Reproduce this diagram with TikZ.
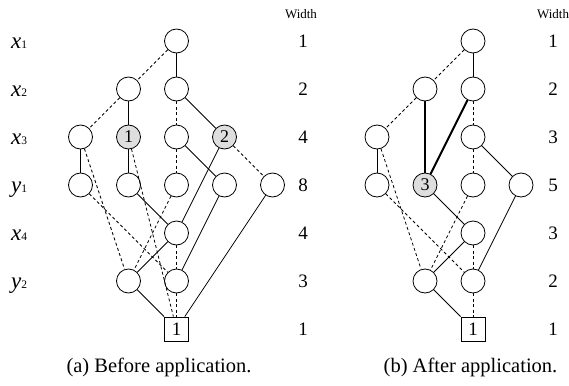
\documentclass[tikz,border=0pt]{standalone}
\usepackage{fontspec}
\setmainfont{Liberation Serif}
\begin{document}
\begin{tikzpicture}[x=1pt,y=-1pt,
  vnode/.style={circle,draw,line width=0.8pt,minimum size=24pt,inner sep=0pt,font=\fontsize{18}{18}\selectfont},
  gnode/.style={vnode,fill=black!13},
  term/.style={rectangle,draw,line width=0.8pt,minimum size=24pt,inner sep=0pt,font=\fontsize{19}{19}\selectfont},
  hi/.style={line width=0.8pt},
  lo/.style={line width=0.8pt,dash pattern=on 3pt off 2.5pt},
  thk/.style={line width=2pt},
  varlab/.style={anchor=base west,inner sep=0pt},
  wnum/.style={inner sep=0pt,font=\fontsize{19}{19}\selectfont},
  whead/.style={inner sep=0pt,font=\fontsize{13}{13}\selectfont},
  capt/.style={inner sep=0pt,anchor=base,font=\fontsize{20.5}{20.5}\selectfont}
]
\useasboundingbox (0,0) rectangle (569,385);
\newcommand{\vl}[2]{{\fontsize{23}{23}\selectfont\itshape #1}{\fontsize{11.5}{11.5}\selectfont #2}}
% variable labels
\node[varlab] (v1) at (11,48.3) {\vl{x}{1}};
\node[varlab] (v2) at (11,96.3) {\vl{x}{2}};
\node[varlab] (v3) at (11,144.3) {\vl{x}{3}};
\node[varlab] (v4) at (11,192.3) {\vl{y}{1}};
\node[varlab] (v5) at (11,240.3) {\vl{x}{4}};
\node[varlab] (v6) at (11,288.3) {\vl{y}{2}};
% width columns
\node[whead] (wh1) at (301,14) {Width};
\node[whead] (wh2) at (553,14) {Width};
\foreach \n/\y/\a/\b in {1/41/1/1,2/89/2/2,3/137/4/3,4/185/8/5,5/233/4/3,6/281/3/2,7/329/1/1}{
  \node[wnum] (wl\n) at (303,\y) {\a};
  \node[wnum] (wr\n) at (553,\y) {\b};
}
% ---------- left panel ----------
\node[vnode] (L03) at (176.5,41) {};
\node[vnode] (L12) at (128.5,89) {};
\node[vnode] (L13) at (176.5,89) {};
\node[vnode] (L21) at (80.5,137) {};
\node[gnode] (L22) at (128.5,137) {1};
\node[vnode] (L23) at (176.5,137) {};
\node[gnode] (L24) at (224.5,137) {2};
\node[vnode] (L31) at (80.5,185) {};
\node[vnode] (L32) at (128.5,185) {};
\node[vnode] (L33) at (176.5,185) {};
\node[vnode] (L34) at (224.5,185) {};
\node[vnode] (L35) at (272.5,185) {};
\node[vnode] (L43) at (176.5,233) {};
\node[vnode] (L52) at (128.5,281) {};
\node[vnode] (L53) at (176.5,281) {};
\node[term] (LT) at (176.5,329) {1};
\draw[lo] (L03) -- (L12);
\draw[hi] (L03) -- (L13);
\draw[lo] (L12) -- (L21);
\draw[hi] (L12) -- (L22);
\draw[lo] (L13) -- (L23);
\draw[hi] (L13) -- (L24);
\draw[hi] (L21) -- (L31);
\draw[lo] (L21) -- (L52);
\draw[hi] (L22) -- (L32);
\draw[lo] (L22) -- (LT);
\draw[lo] (L23) -- (L33);
\draw[hi] (L23) -- (L34);
\draw[lo] (L24) -- (L35);
\draw[hi] (L24) -- (L43);
\draw[lo] (L31) -- (L53);
\draw[hi] (L32) -- (L43);
\draw[lo] (L33) -- (L52);
\draw[hi] (L34) -- (L53);
\draw[hi] (L35) -- (LT);
\draw[lo] (L43) -- (L53);
\draw[hi] (L43) -- (L52);
\draw[hi] (L52) -- (LT);
\draw[lo] (L53) -- (LT);
% ---------- right panel ----------
\node[vnode] (R03) at (473,41) {};
\node[vnode] (R12) at (425,89) {};
\node[vnode] (R13) at (473,89) {};
\node[vnode] (R21) at (377,137) {};
\node[vnode] (R23) at (473,137) {};
\node[vnode] (R31) at (377,185) {};
\node[gnode] (R32) at (425,185) {3};
\node[vnode] (R33) at (473,185) {};
\node[vnode] (R34) at (521,185) {};
\node[vnode] (R43) at (473,233) {};
\node[vnode] (R52) at (425,281) {};
\node[vnode] (R53) at (473,281) {};
\node[term] (RT) at (473,329) {1};
\draw[lo] (R03) -- (R12);
\draw[hi] (R03) -- (R13);
\draw[lo] (R12) -- (R21);
\draw[thk] (R12) -- (R32);
\draw[lo] (R13) -- (R23);
\draw[thk] (R13) -- (R32);
\draw[hi] (R21) -- (R31);
\draw[lo] (R21) -- (R52);
\draw[lo] (R23) -- (R33);
\draw[hi] (R23) -- (R34);
\draw[lo] (R31) -- (R53);
\draw[hi] (R32) -- (R43);
\draw[lo] (R33) -- (R52);
\draw[hi] (R34) -- (R53);
\draw[lo] (R43) -- (R53);
\draw[hi] (R43) -- (R52);
\draw[hi] (R52) -- (RT);
\draw[lo] (R53) -- (RT);
% captions
\node[capt] (ca) at (159,372.3) {(a) Before application.};
\node[capt] (cb) at (470.5,372.3) {(b) After application.};
\end{tikzpicture}
\end{document}
